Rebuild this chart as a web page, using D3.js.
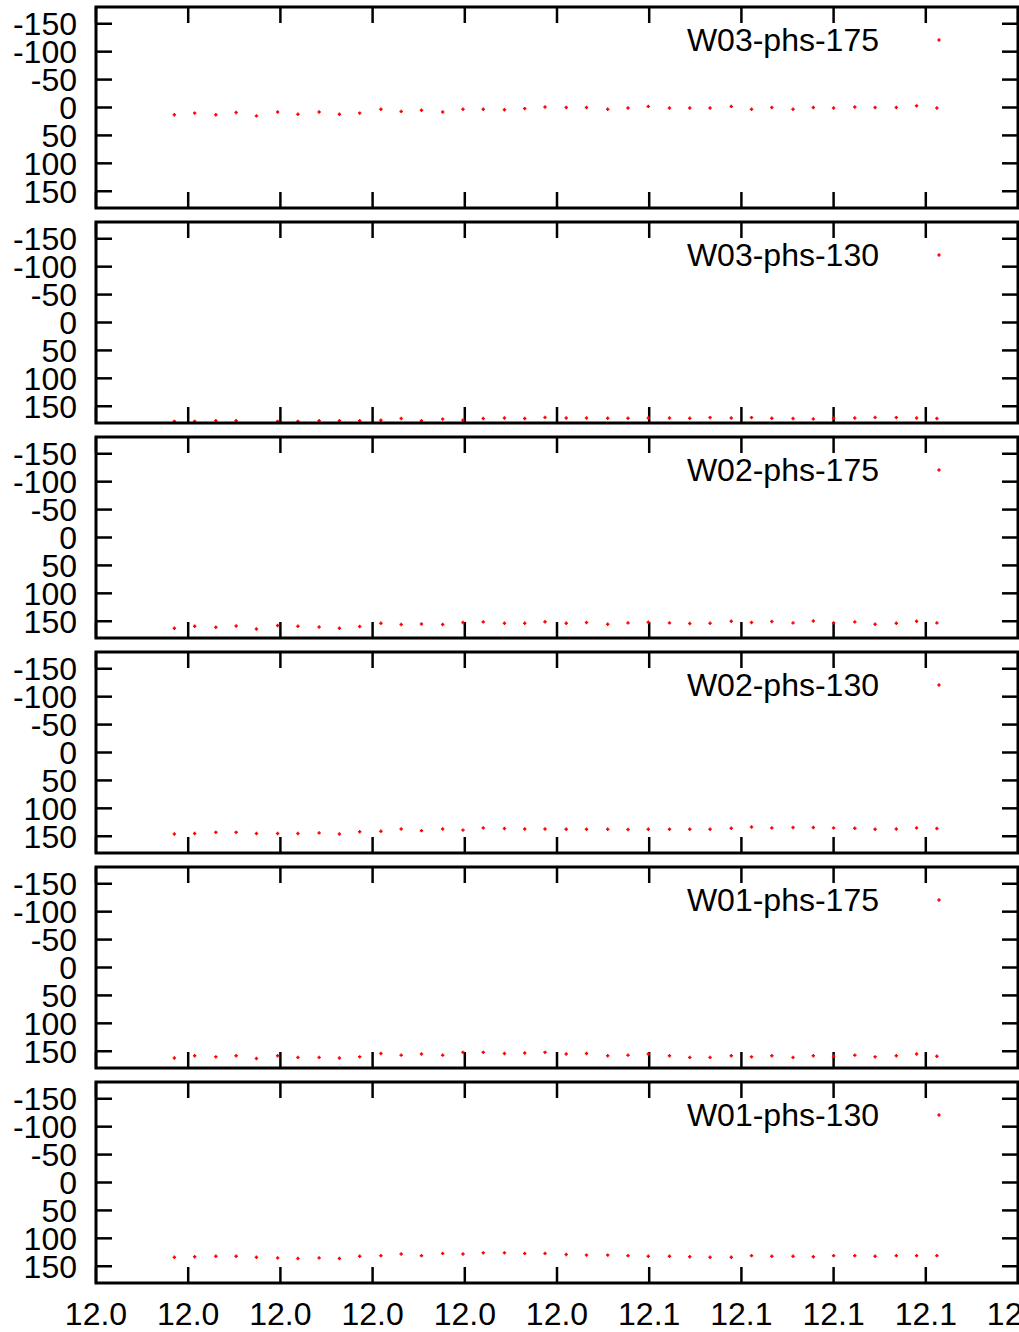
<!DOCTYPE html>
<html>
<head>
<meta charset="utf-8">
<script src="https://cdn.jsdelivr.net/npm/d3@7"></script>
<style>
  body { margin: 0; background: #fff; }
  svg text { font-family: "Liberation Sans", Arial, sans-serif; fill: #000; }
</style>
</head>
<body>
<svg id="chart" width="1019" height="1332"></svg>
<script>
// time axis (x) values of the samples
var xs = [12.0085, 12.0107, 12.0130, 12.0152, 12.0174, 12.0197, 12.0219, 12.0242, 12.0264, 12.0286,
          12.0309, 12.0331, 12.0353, 12.0376, 12.0398, 12.0420, 12.0443, 12.0465, 12.0487, 12.0510,
          12.0532, 12.0555, 12.0577, 12.0599, 12.0622, 12.0644, 12.0666, 12.0689, 12.0711, 12.0733,
          12.0756, 12.0778, 12.0800, 12.0823, 12.0845, 12.0868, 12.0890, 12.0912]

var panelNames = ['W03-phs-175', 'W03-phs-130', 'W02-phs-175', 'W02-phs-130', 'W01-phs-175', 'W01-phs-130']

var w03_175 = [13, 10, 13, 9, 15, 8, 12, 8, 12, 10, 3, 7, 5, 8, 3, 3, 4, 2, -1, 0,
               0, 3, 1, -2, 1, 1, 1, -2, 3, 0, 3, 0, 1, -1, 0, 0, -3, 1]
var w03_130 = [177, 177, 176, 176, 182, 177, 177, 176, 176, 176, 175, 172, 176, 173, 175, 172, 171, 172, 170, 171,
               171, 171.5, 171.5, 171, 171, 171.5, 170.3, 171, 170.3, 171.5, 172, 172.7, 171.5, 171, 170, 170.3, 171, 172]
var w02_175 = [162.5, 159, 160.7, 158.4, 163.8, 157.7, 159, 160.2, 162.5, 159.5, 153.6, 155.9, 154.8, 155.9, 152.3, 151.2, 153.6, 153.6, 151, 153.6,
               152.3, 155.4, 153, 151.8, 153, 154.1, 153.6, 150, 152.3, 150.5, 153, 149.5, 153, 151.2, 155.4, 153.6, 150, 153]
var w02_130 = [146, 145, 143, 143, 145, 145, 145, 144, 146, 142, 141, 137, 140, 137, 139, 135, 136, 137, 137, 137.5,
               137.5, 137.5, 138, 137.5, 137.5, 137.5, 137.5, 135.7, 133.3, 135, 134.4, 134.4, 135, 135.7, 137.5, 137, 135, 136.2]
var w01_175 = [162, 158, 160, 158, 163, 158, 161, 161, 162, 160, 154, 157, 155, 157, 152, 152, 154, 153, 152, 155,
               154, 158, 157, 155, 158, 161, 161, 158, 160, 158, 161, 158, 159, 157, 160, 158, 155, 159]
var w01_130 = [134, 133, 132, 132, 134, 135, 136, 135, 136, 132, 131, 128, 131, 127, 128, 126, 126, 127, 127, 129,
               130, 130, 131, 132, 132, 133, 134, 134, 131, 132, 132, 133, 131, 131, 132, 131, 131, 131]
var panelValues = [w03_175, w03_130, w02_175, w02_130, w01_175, w01_130]

var yTicks = [-150, -100, -50, 0, 50, 100, 150]
var xTicks = [12.00, 12.01, 12.02, 12.03, 12.04, 12.05, 12.06, 12.07, 12.08, 12.09, 12.10]
var xTickLabels = ['12.0', '12.0', '12.0', '12.0', '12.0', '12.0', '12.1', '12.1', '12.1', '12.1', '12.1']

// layout
var left = 96, right = 1018
var panelTop = 7, panelH = 201, panelStep = 215
var tickLen = 16
var fontSize = 32

var svg = d3.select('#chart')
var x = d3.scaleLinear().domain([12.0, 12.1]).range([left, right])

drawPanel = function(k){
    var top = panelTop + k * panelStep
    var bottom = top + panelH
    // y is reversed: negative on top
    var y = d3.scaleLinear().domain([-180, 180]).range([top, bottom])
    var g = svg.append('g')

    // y ticks, both sides
    g.selectAll('.ytl').data(yTicks).enter().append('line')
        .attr('x1', left).attr('x2', left + tickLen)
        .attr('y1', function(d){ return y(d) }).attr('y2', function(d){ return y(d) })
        .attr('stroke', '#000').attr('stroke-width', 2.5)
    g.selectAll('.ytr').data(yTicks).enter().append('line')
        .attr('x1', right).attr('x2', right - tickLen)
        .attr('y1', function(d){ return y(d) }).attr('y2', function(d){ return y(d) })
        .attr('stroke', '#000').attr('stroke-width', 2.5)
    g.selectAll('.ylab').data(yTicks).enter().append('text')
        .attr('x', 77).attr('y', function(d){ return y(d) })
        .attr('dy', '0.36em')
        .attr('text-anchor', 'end')
        .attr('font-size', fontSize)
        .text(function(d){ return d })

    // x ticks, top and bottom
    g.selectAll('.xtt').data(xTicks).enter().append('line')
        .attr('x1', function(d){ return x(d) }).attr('x2', function(d){ return x(d) })
        .attr('y1', top).attr('y2', top + tickLen)
        .attr('stroke', '#000').attr('stroke-width', 2.5)
    g.selectAll('.xtb').data(xTicks).enter().append('line')
        .attr('x1', function(d){ return x(d) }).attr('x2', function(d){ return x(d) })
        .attr('y1', bottom).attr('y2', bottom - tickLen)
        .attr('stroke', '#000').attr('stroke-width', 2.5)

    // points (gnuplot skips values out of range)
    var pts = xs.map(function(v, i){ return [v, panelValues[k][i]] })
        .filter(function(p){ return p[1] >= -180 && p[1] <= 180 })
    g.selectAll('.pt').data(pts).enter().append('path')
        .attr('transform', function(p){ return 'translate(' + x(p[0]) + ',' + y(p[1]) + ')' })
        .attr('d', 'M-1.7,0H1.7M0,-1.7V1.7')
        .attr('stroke', '#ff0000').attr('stroke-width', 1.5)

    // key
    g.append('text')
        .attr('x', 879).attr('y', top + 44)
        .attr('text-anchor', 'end')
        .attr('font-size', fontSize)
        .text(panelNames[k])
    g.append('path')
        .attr('transform', 'translate(939,' + (top + 33) + ')')
        .attr('d', 'M-1.7,0H1.7M0,-1.7V1.7')
        .attr('stroke', '#ff0000').attr('stroke-width', 1.5)

    // border
    g.append('rect')
        .attr('x', left).attr('y', top)
        .attr('width', right - left).attr('height', panelH)
        .attr('fill', 'none').attr('stroke', '#000').attr('stroke-width', 3)
}

for(k=0; k<panelNames.length; k++){
    drawPanel(k)
}

// bottom x labels
var lastBottom = panelTop + 5 * panelStep + panelH
svg.selectAll('.xlab').data(xTicks).enter().append('text')
    .attr('x', function(d){ return x(d) })
    .attr('y', lastBottom + 42)
    .attr('text-anchor', 'middle')
    .attr('font-size', fontSize)
    .text(function(d, i){ return xTickLabels[i] })
</script>
</body>
</html>
